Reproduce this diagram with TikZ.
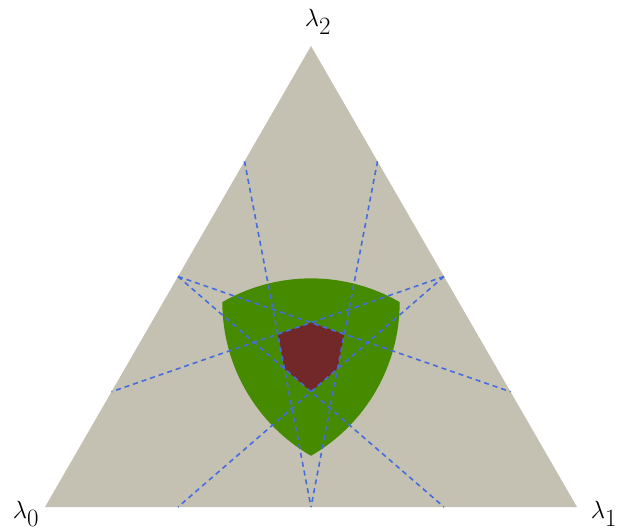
\documentclass[tikz,border=0pt]{standalone}
\usetikzlibrary{calc}
\definecolor{beige}{RGB}{196,193,178}
\definecolor{leaf}{RGB}{70,138,0}
\definecolor{wine}{RGB}{114,39,41}
\definecolor{dashblue}{RGB}{68,108,222}
\begin{document}
\begin{tikzpicture}[x=1pt,y=1pt,
  guide/.style={draw=dashblue,line width=1.6pt,dash pattern=on 5pt off 4pt},
  lab/.style={inner sep=0pt,font=\fontsize{34}{36}\selectfont}]
\useasboundingbox (0,0) rectangle (620,531);
\coordinate (A) at (45,24);
\coordinate (B) at (577,24);
\coordinate (C) at (311,485);
\fill[beige] (A) -- (B) -- (C) -- cycle;
% green Reuleaux region
\coordinate (P0) at (barycentric cs:A=4,B=1,C=4);
\coordinate (P1) at (barycentric cs:A=1,B=4,C=4);
\coordinate (P2) at (barycentric cs:A=4,B=4,C=1);
\fill[leaf] (P0) arc[start angle=120,end angle=60,radius=177.4pt]
  arc[start angle=0,end angle=-60,radius=177.4pt]
  arc[start angle=240,end angle=180,radius=177.4pt] -- cycle;
% red hexagon
\fill[wine] (barycentric cs:A=0.3,B=0.3,C=0.4) -- (barycentric cs:A=0.25,B=0.375,C=0.375)
  -- (barycentric cs:A=0.3,B=0.4,C=0.3) -- (barycentric cs:A=0.375,B=0.375,C=0.25)
  -- (barycentric cs:A=0.4,B=0.3,C=0.3) -- (barycentric cs:A=0.375,B=0.25,C=0.375) -- cycle;
% midpoints and edge points
\coordinate (Mab) at (barycentric cs:A=1,B=1,C=0);
\coordinate (Mac) at (barycentric cs:A=1,B=0,C=1);
\coordinate (Mbc) at (barycentric cs:A=0,B=1,C=1);
\coordinate (Ac1) at (barycentric cs:A=1,B=0,C=3);
\coordinate (Ac2) at (barycentric cs:A=3,B=0,C=1);
\coordinate (Bc1) at (barycentric cs:A=0,B=1,C=3);
\coordinate (Bc2) at (barycentric cs:A=0,B=3,C=1);
\coordinate (Ab1) at (barycentric cs:A=1,B=3,C=0);
\coordinate (Ab2) at (barycentric cs:A=3,B=1,C=0);
\draw[guide] (Ac1) -- (Mab);
\draw[guide] (Bc1) -- (Mab);
\draw[guide] (Mac) -- (Bc2);
\draw[guide] (Mac) -- (Ab1);
\draw[guide] (Mbc) -- (Ac2);
\draw[guide] (Mbc) -- (Ab2);
\node[lab] (l0) at (26,17) {$\lambda_0$};
\node[lab] (l1) at (604,17) {$\lambda_1$};
\node[lab] (l2) at (318,509) {$\lambda_2$};
\end{tikzpicture}
\end{document}
